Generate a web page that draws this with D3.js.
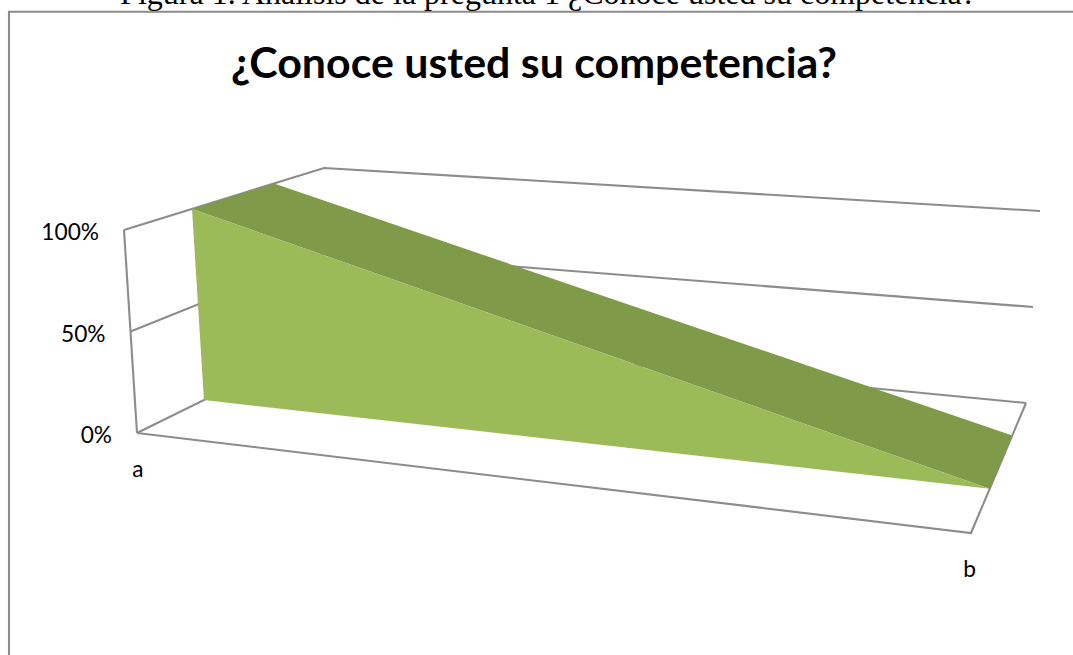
<!DOCTYPE html>
<html><head><meta charset="utf-8">
<script src="https://cdn.jsdelivr.net/npm/d3@7"></script>
<style>html,body{margin:0;padding:0;background:#fff;overflow:hidden}svg{display:block}</style>
</head><body><svg id="c" width="1073" height="655"></svg>
<script>
const caption = "Figura 1. Análisis de la pregunta 1 ¿Conoce usted su competencia?";
const chartTitle = "¿Conoce usted su competencia?";
const categories = ["a", "b"];
const values = [1, 0];
const tickValues = [0, 0.5, 1];
const tickLabels = ["0%", "50%", "100%"];
const seriesDepth = [0.34, 0.75];

const svg = d3.select("#c");
const grey = "#8c8c8c";
const lineWidth = 2.1;

// oblique-projection box: plan corners of the chart cube
const box = {
  frontLeft:  {bottom:[137,433], top:[124,230]},
  backLeft:   {bottom:[334,336], top:[324,168]},
  frontRight: {bottom:[971,533], top:[986,301]},
  backRight:  {bottom:[1026,403], top:[1040,211]}
};
const xScale = d3.scalePoint().domain(categories).range([0,1]);
const yScale = d3.scaleLinear().domain([0,1]).range([0,1]);
function project(cat, val, depth){
  const u = xScale(cat), v = yScale(val), d = depth;
  const mix = (a,b,t)=>[d3.interpolateNumber(a[0],b[0])(t), d3.interpolateNumber(a[1],b[1])(t)];
  const edge = k => mix(mix(box.frontLeft[k],box.backLeft[k],d), mix(box.frontRight[k],box.backRight[k],d), u);
  return mix(edge("bottom"), edge("top"), v);
}
const line = d3.line();

// frame: open at the right, running off the picture
svg.append("path").attr("d","M9,655V11.8H1073").attr("fill","none").attr("stroke",grey).attr("stroke-width",lineWidth);

// back wall gridlines and left wall
const [a,b] = categories;
tickValues.forEach(t=>{
  svg.append("path").attr("class","grid")
    .attr("d",line([project(a,t,0),project(a,t,1),project(b,t,1)]))
    .attr("fill","none").attr("stroke",grey).attr("stroke-width",lineWidth);
});
// vertical front axis
svg.append("path").attr("d",line([project(a,0,0),project(a,1,0)])).attr("fill","none").attr("stroke",grey).attr("stroke-width",lineWidth);
// floor
svg.append("path").attr("d",line([project(a,0,0),project(b,0,0),project(b,0,1)])).attr("fill","none").attr("stroke",grey).attr("stroke-width",lineWidth);

// area: top surface and front face
const [d0,d1] = seriesDepth;
const pairs = d3.zip(categories, values);
svg.append("path").attr("fill","#7f9a48")
  .attr("d",line([...pairs.map(p=>project(p[0],p[1],d0)), ...pairs.slice().reverse().map(p=>project(p[0],p[1],d1))])+"Z");
svg.append("path").attr("fill","#9bbb59")
  .attr("d",line([...pairs.map(p=>project(p[0],p[1],d0)), ...pairs.slice().reverse().map(p=>project(p[0],0,d0))])+"Z");

// text
svg.append("text").attr("x",548).attr("y",4).attr("text-anchor","middle")
  .attr("font-family","Liberation Serif").attr("font-size",32).attr("fill","#000").text(caption);
svg.append("text").attr("x",534).attr("y",78).attr("text-anchor","middle")
  .attr("font-family","Lato").attr("font-weight",700).attr("font-size",42.9).attr("fill","#000").text(chartTitle);
tickValues.forEach((t,i)=>{
  const p = project(a,t,0);
  svg.append("text").attr("x",p[0]-25).attr("y",p[1]+10).attr("text-anchor","end")
    .attr("font-family","Lato").attr("font-size",22.7).attr("fill","#000").text(tickLabels[i]);
});
categories.forEach(c=>{
  const p = project(c,0,0);
  svg.append("text").attr("x",p[0]+1-2.5*xScale(c)).attr("y",p[1]+44).attr("text-anchor","middle")
    .attr("font-family","Lato").attr("font-size",22.7).attr("fill","#000").text(c);
});
</script></body></html>
